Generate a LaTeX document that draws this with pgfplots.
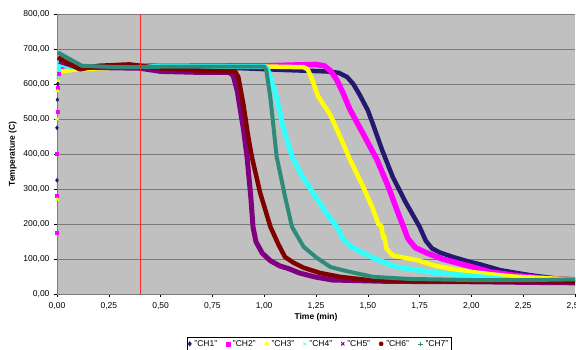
\documentclass[border=0pt]{standalone}
\usepackage{pgfplots}
\pgfplotsset{compat=1.18}
\usepackage{fontspec}
\setmainfont{Liberation Sans}
\definecolor{cA}{HTML}{24196F}
\definecolor{cB}{HTML}{FF00FF}
\definecolor{cC}{HTML}{FFFF00}
\definecolor{cD}{HTML}{33FFFF}
\definecolor{cE}{HTML}{800080}
\definecolor{cF}{HTML}{800000}
\definecolor{cG}{HTML}{2E8B7A}
\definecolor{plotbg}{HTML}{C0C0C0}
\definecolor{gridc}{HTML}{7A7A7A}
\begin{document}
\begin{tikzpicture}
\begin{axis}[
  at={(0,0)}, anchor=south west,
  scale only axis, width=518pt, height=280pt,
  xmin=0, xmax=2.5, ymin=0, ymax=800,
  axis background/.style={fill=plotbg},
  axis line style={draw=gridc},
  axis x line*=bottom, axis y line*=left,
  xtick distance=0.25, ytick distance=100,
  ymajorgrids, major grid style={gridc, line width=0.8pt},
  tick align=outside, major tick length=3pt,
  tick style={black, line width=0.4pt},
  ticklabel style={font=\fontsize{8.5}{9}\selectfont},
  xticklabel style={yshift=-2pt},
  yticklabel style={xshift=-1pt},
  /pgf/number format/.cd, fixed, fixed zerofill, precision=2, use comma, assume math mode=true,
  /pgfplots/.cd,
  xlabel={\textbf{Time (min)}},
  ylabel={\textbf{Temperature (C)}},
  label style={font=\fontsize{8.5}{9}\selectfont},
  xlabel style={yshift=3pt},
  ylabel style={yshift=0pt},
  legend style={at={(0.506,-0.178)}, anchor=center, draw=black, line width=0.4pt,
    font=\fontsize{8.5}{9}\selectfont, inner sep=1.2pt, row sep=0pt,
    /tikz/every odd column/.append style={column sep=1pt},
    /tikz/every even column/.append style={column sep=7pt}},
  legend columns=-1,
  legend cell align=left,
  clip=true,
]
\addlegendimage{only marks, mark=diamond*, mark size=2.3pt, cA}
\addlegendentry{"CH1"}
\addlegendimage{only marks, mark=square*, mark size=1.9pt, cB}
\addlegendentry{"CH2"}
\addlegendimage{only marks, mark=triangle*, mark size=2.3pt, cC}
\addlegendentry{"CH3"}
\addlegendimage{only marks, mark=x, mark size=2.3pt, cD}
\addlegendentry{"CH4"}
\addlegendimage{only marks, mark=x, mark size=2.3pt, cE, line width=0.9pt}
\addlegendentry{"CH5"}
\addlegendimage{only marks, mark=*, mark size=2.1pt, cF}
\addlegendentry{"CH6"}
\addlegendimage{only marks, mark=+, mark size=2.3pt, cG}
\addlegendentry{"CH7"}

\addplot[forget plot, cA, line width=4.5pt, line join=round] coordinates {
(0.01,645)(0.05,648)(0.1,645)(0.3,650)(0.6,648)(0.9,645)(1.1,640)(1.3,636)(1.36,632)(1.40,620)(1.43,600)(1.46,570)(1.5,525)(1.525,485)(1.57,410)(1.62,335)(1.68,265)(1.75,192)(1.78,152)(1.81,130)(1.85,118)(1.91,106)(1.99,92)(2.04,85)(2.14,68)(2.28,54)(2.4,45)(2.5,42)};
\addplot[forget plot, cB, line width=5.5pt, line join=round] coordinates {
(0.01,640)(0.1,648)(0.5,652)(1.0,652)(1.25,656)(1.29,652)(1.32,638)(1.35,612)(1.38,575)(1.414,527)(1.48,455)(1.544,384)(1.6,305)(1.64,241)(1.694,158)(1.73,132)(1.786,117)(1.86,100)(1.93,89)(2.0,78)(2.09,63)(2.2,54)(2.28,49)(2.4,43)(2.5,40)};
\addplot[forget plot, cC, line width=4.5pt, line join=round] coordinates {
(0.02,636)(0.1,642)(0.5,652)(1.0,650)(1.19,648)(1.21,642)(1.23,615)(1.26,565)(1.318,513)(1.366,450)(1.414,384)(1.477,307)(1.52,250)(1.544,212)(1.55,200)(1.565,195)(1.575,160)(1.58,165)(1.59,130)(1.62,110)(1.737,97)(1.83,80)(1.93,69)(2.0,63)(2.1,56)(2.2,50)(2.35,45)(2.5,42)};
\addplot[forget plot, cD, line width=5pt, line join=round] coordinates {
(0.005,625)(0.01,661)(0.05,650)(0.5,650)(1.0,650)(1.015,645)(1.035,610)(1.06,560)(1.09,480)(1.134,393)(1.18,340)(1.236,289)(1.29,240)(1.35,192)(1.38,157)(1.42,135)(1.477,117)(1.55,97)(1.64,77)(1.8,63)(1.96,54)(2.1,46)(2.25,36)(2.4,35)(2.5,38)};
\addplot[forget plot, cE, line width=5pt, line join=round] coordinates {
(0.01,665)(0.1,648)(0.4,645)(0.5,636)(0.7,633)(0.83,633)(0.85,625)(0.87,580)(0.9,470)(0.917,393)(0.935,280)(0.946,192)(0.96,150)(0.99,117)(1.03,95)(1.076,80)(1.12,72)(1.17,60)(1.25,48)(1.33,40)(1.6,36)(2.0,35)(2.3,33)(2.5,32)};
\addplot[forget plot, cF, line width=4.5pt, line join=round] coordinates {
(0.005,676)(0.05,660)(0.11,642)(0.2,652)(0.35,656)(0.5,645)(0.7,638)(0.86,635)(0.875,620)(0.9,540)(0.92,460)(0.94,393)(0.98,290)(1.03,192)(1.07,140)(1.10,106)(1.14,90)(1.19,75)(1.27,60)(1.366,49)(1.5,40)(1.8,36)(2.1,35)(2.3,36)(2.5,34)};
\addplot[forget plot, cG, line width=4pt, line join=round] coordinates {
(0.005,690)(0.05,675)(0.12,652)(0.3,648)(0.6,650)(0.9,650)(1.0,650)(1.01,640)(1.03,560)(1.06,393)(1.1,280)(1.134,192)(1.19,135)(1.25,105)(1.32,77)(1.4,65)(1.525,49)(1.7,43)(2.0,40)(2.3,40)(2.5,42)};
% initial scattered points
\addplot[forget plot, only marks, mark=diamond*, mark size=2pt, cA] coordinates {(0,325)(0,475)(0.002,555)(0.004,600)};
\addplot[forget plot, only marks, mark=square*, mark size=1.6pt, cB] coordinates {(0,175)(0,280)(0,400)(0.003,520)(0.005,590)(0.008,630)};
\addplot[forget plot, only marks, mark=triangle*, mark size=2pt, cC] coordinates {(0,270)(0,500)(0.003,580)(0.006,610)};
\addplot[forget plot, only marks, mark=x, mark size=2pt, cD] coordinates {(0.003,620)(0.006,640)};
% vertical marker line
\addplot[forget plot, red!85!white, line width=0.5pt] coordinates {(0.4,0)(0.4,800)};
\end{axis}
\pgfresetboundingbox
\path[use as bounding box] (-57pt,-55pt) rectangle (519pt,294pt);
\end{tikzpicture}
\end{document}
